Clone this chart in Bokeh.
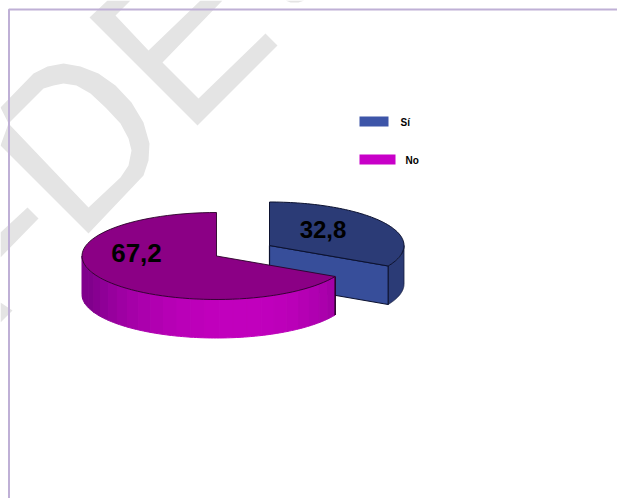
import numpy as np
from bokeh.plotting import figure
from bokeh.embed import file_html
from bokeh.resources import INLINE
from bokeh.core.properties import value

categories = ["Sí", "No"]
values = [32.8, 67.2]
labels = ["32,8", "67,2"]

W, H = 617, 498
p = figure(width=W, height=H, x_range=(0, W), y_range=(H, 0), output_backend="svg",
           toolbar_location=None, min_border=0, outline_line_color=None,
           background_fill_color="white", border_fill_color="white")
p.margin = (0, 0, 0, 0)
p.axis.visible = False
p.grid.visible = False

# watermark
WM = "#e4e4e4"
wm_shapes = [
    [(107,0),(89,17),(197,125),(277,45),(265,33),(198,98),(162,62),(222,0),(200,0),(148,50),(115,15),(130,0)],
    [(0,145),(88,233),(143,175),(148,160),(149,143),(143,122),(131,102),(115,85),(98,73),(80,66),(63,63),(47,66),
     (33,73),(0,107),(8,123),(43,88),(53,85),(63,83),(76,85),(90,93),(105,107),(120,123),(128,138),(131,150),
     (128,165),(120,177),(88,207),(8,123)],
    [(0,232),(27,207),(38,218),(0,257)],
    [(0,302),(12,310),(0,322)],
    [(285,0),(290,2),(298,2),(304,0)],
]
p.patches([[a for a, _ in s] for s in wm_shapes], [[b for _, b in s] for s in wm_shapes],
          fill_color=WM, line_color=None)

# frame
p.line([617, 8.5, 8.5], [9, 9, 498], line_color="#bfb0d6", line_width=2)

DEPTH = 38.5
RX, RY = 134.5, 43.5

def rim(cx, cy, t0, t1, n=80):
    t = np.radians(np.linspace(t0, t1, n))
    return cx - RX * np.sin(t), cy - RY * np.cos(t)

# Sí slice: clockwise from the top
si_sweep = values[0] * 3.6
cx, cy = 269.0, 245.0
xs, ys = rim(cx, cy, 0, -si_sweep)
# outer side
sx, sy = rim(cx, cy, -90, -si_sweep)
p.patch(np.r_[sx, sx[::-1]], np.r_[sy, sy[::-1] + DEPTH], fill_color="#2b3b76", line_color="#141c3c", line_width=0.8)
# cut face
p.patch([cx, xs[-1], xs[-1], cx], [cy, ys[-1], ys[-1] + DEPTH, cy + DEPTH],
        fill_color="#374e9a", line_color="#0c1230", line_width=1.2)
# top
p.patch(np.r_[cx, xs], np.r_[cy, ys], fill_color="#2b3b76", line_color="#0c1230", line_width=1)

# No slice: counter-clockwise from the top
no_sweep = values[1] * 3.6
cx, cy = 216.0, 255.5
xs, ys = rim(cx, cy, 0, no_sweep)
edges = np.linspace(90, no_sweep, 26)
for a, b in zip(edges[:-1], edges[1:]):
    m = (a + b) / 2
    k = max(0.0, np.cos(np.radians((m - 190) * 1.15)))
    r = int(128 + (194 - 128) * k)
    g = 0
    bl = int(140 + (190 - 140) * k)
    sx, sy = rim(cx, cy, a, b, 6)
    c = f"#{r:02x}{g:02x}{bl:02x}"
    p.patch(np.r_[sx, sx[::-1]], np.r_[sy, sy[::-1] + DEPTH], fill_color=c, line_color=c, line_width=1)
# right end edge
p.line([xs[-1], xs[-1]], [ys[-1], ys[-1] + DEPTH], line_color="#120012", line_width=1.3)
# top
p.patch(np.r_[cx, xs], np.r_[cy, ys], fill_color="#8b0085", line_color="#2a0028", line_width=0.9)

# value labels
p.text([322.5], [229], text=[labels[0]], text_font=value("Liberation Sans"), text_font_size="24px",
       text_font_style="bold", text_align="center", text_baseline="middle", text_color="#000000")
p.text([136], [252], text=[labels[1]], text_font=value("Liberation Sans"), text_font_size="26px",
       text_font_style="bold", text_align="center", text_baseline="middle", text_color="#000000")

# legend
p.quad(left=[359, 359], right=[388, 395], top=[116, 154], bottom=[126, 164],
       fill_color=["#3d55a8", "#c800c8"], line_color=None)
p.text([400, 405], [122, 160], text=categories, text_font=value("Liberation Sans"), text_font_style="bold",
       text_font_size="10px", text_align="left", text_baseline="middle", text_color="#000000")

open("out.html", "w").write(file_html(p, INLINE))
